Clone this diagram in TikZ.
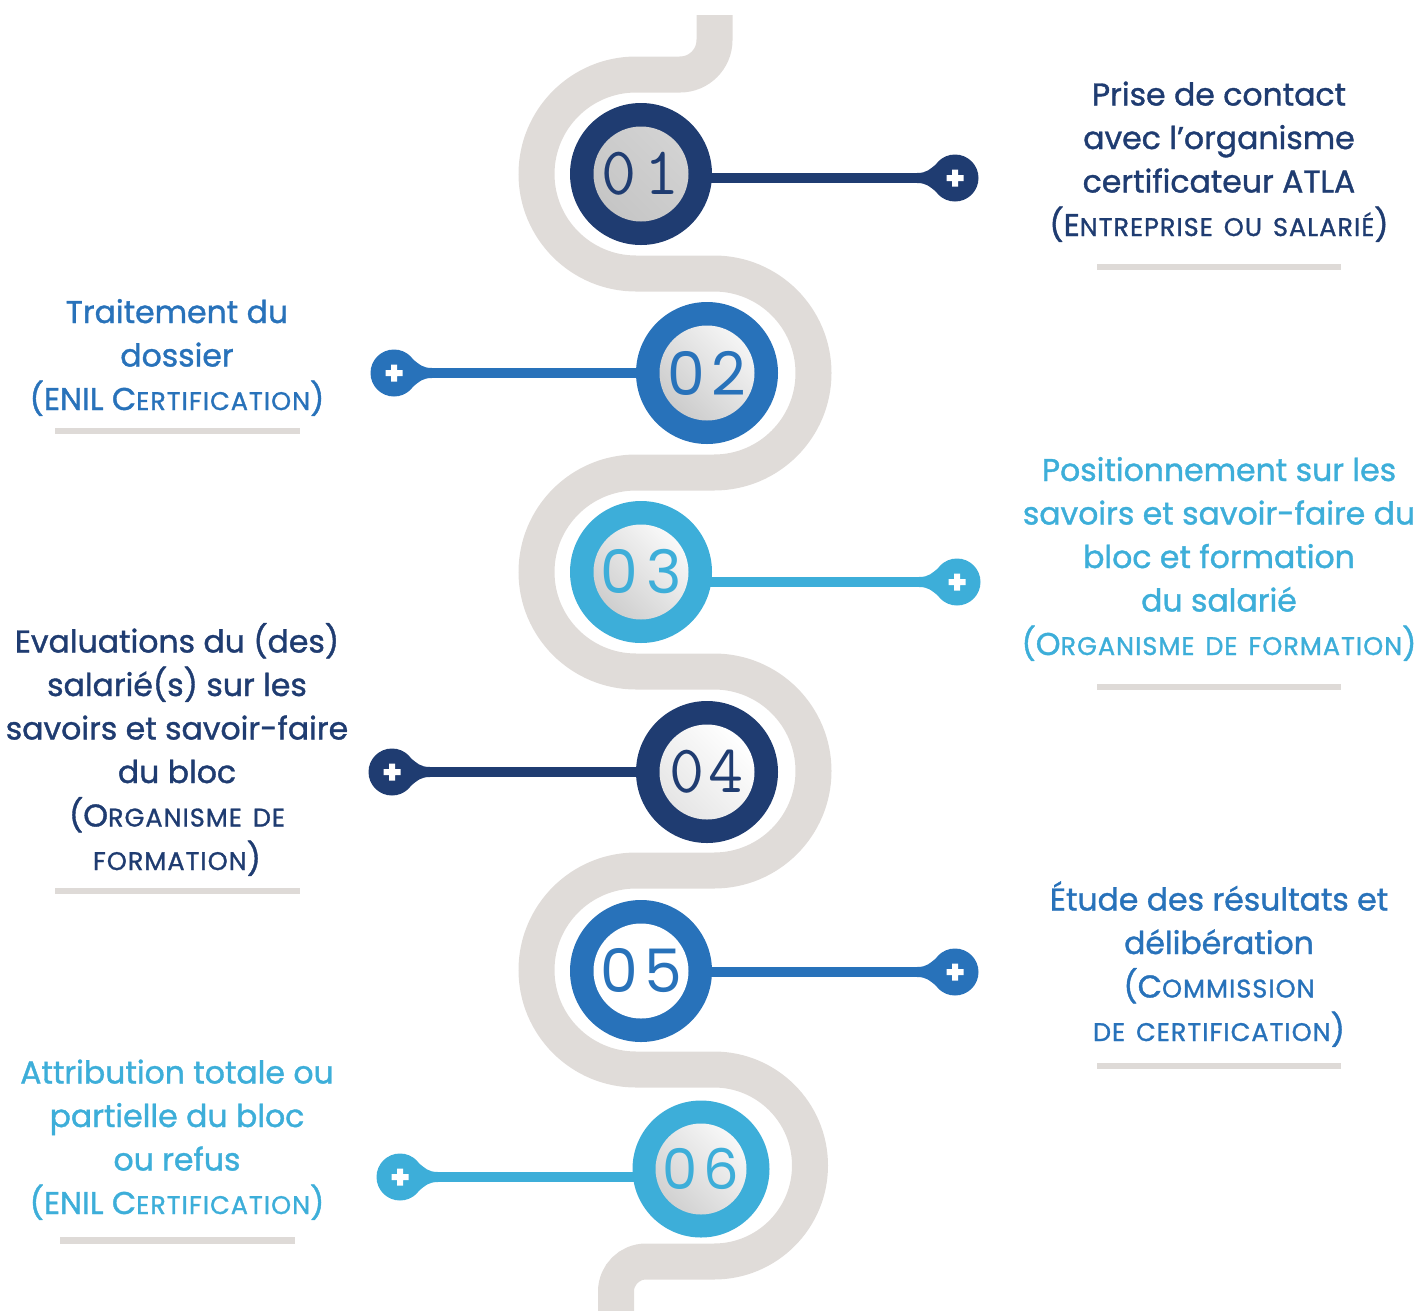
\documentclass[tikz,border=0pt]{standalone}
\usepackage{fontspec}
\setmainfont{Poppins}[FakeBold=1.2]
\newfontfamily\numfam{Poppins}
\newfontfamily\scfam{Poppins}[FakeBold=1.2, LetterSpace=4, WordSpace=1.4]
\usetikzlibrary{backgrounds}
\definecolor{navy}{HTML}{1F3C71}
\definecolor{midblue}{HTML}{2872BA}
\definecolor{lightblue}{HTML}{3DAED9}
\definecolor{pathgray}{HTML}{E0DCD9}
\definecolor{bargray}{HTML}{DEDAD7}
\newcommand\smcap[1]{{\scfam\fontsize{25.5}{25.5}\selectfont #1}}
\newcommand\plusfillet[3]{% node, dir, colour
  \fill[#3, shift={(#1)}, xscale=#2] (38,-5) .. controls (28,-5) and (25,-9) .. (19.2,-13.5)
     -- (19.2,13.5) .. controls (25,9) and (28,5) .. (38,5) -- cycle;
  \fill[white, shift={(#1)}] (-8.5,-3) rectangle (8.5,3) (-3,-8.5) rectangle (3,8.5);}
\begin{document}
\begin{tikzpicture}[x=1pt,y=-1pt,
  ring/.style={circle, inner sep=0, minimum size=142},
  bub/.style={circle, inner sep=0, minimum size=47},
  txt/.style={align=center, inner sep=0, anchor=base, font=\fontsize{31.5}{43.5}\selectfont},
  numm/.style={inner sep=0, font=\ttfamily\fontsize{68}{68}\selectfont},
  nums/.style={inner sep=0, font=\numfam\fontsize{60}{60}\selectfont},
  conn/.style={line width=10},
  bar/.style={line width=6.5, bargray}]
\useasboundingbox (0,0) rectangle (1422,1310);

% step circles
\node[ring, fill=navy] (s1) at (641,174) {};
\node[ring, fill=midblue] (s2) at (707,373) {};
\node[ring, fill=lightblue] (s3) at (641,572) {};
\node[ring, fill=navy] (s4) at (707,772) {};
\node[ring, fill=midblue] (s5) at (641,971) {};
\node[ring, fill=lightblue, minimum size=137] (s6) at (701,1169) {};

\shade[left color=gray!35, right color=gray!45, shading angle=-45] (s1) circle (47.5);
\shade[left color=gray!8, right color=gray!40, shading angle=-45] (s2) circle (47.5);
\shade[left color=gray!5, right color=gray!38, shading angle=-45] (s3) circle (47.5);
\shade[left color=white, right color=gray!20, shading angle=-45] (s4) circle (47.5);
\fill[white] (s5) circle (47.5);
\shade[left color=gray!6, right color=gray!36, shading angle=-45] (s6) circle (45.5);

\node[numm, text=navy] (n1) at (s1) {0\kern8pt1};
\node[nums, text=midblue] (n2) at (s2) {0\kern6pt2};
\node[nums, text=lightblue] (n3) at (s3) {0\kern8pt3};
\node[numm, text=navy] (n4) at (s4) {0\kern4pt4};
\node[nums, text=midblue] (n5) at (s5) {0\kern6pt5};
\node[nums, text=lightblue, font=\numfam\fontsize{56}{56}\selectfont] (n6) at (s6) {0\kern6pt6};

% bubbles
\node[bub, fill=navy] (b1) at (955,178) {};
\node[bub, fill=midblue] (b2) at (394,373) {};
\node[bub, fill=lightblue] (b3) at (957,582) {};
\node[bub, fill=navy] (b4) at (392,772) {};
\node[bub, fill=midblue] (b5) at (955,972) {};
\node[bub, fill=lightblue] (b6) at (400,1177) {};
\plusfillet{b1}{-1}{navy}
\plusfillet{b2}{1}{midblue}
\plusfillet{b3}{-1}{lightblue}
\plusfillet{b4}{1}{navy}
\plusfillet{b5}{-1}{midblue}
\plusfillet{b6}{1}{lightblue}

\begin{pgfonlayer}{background}
\draw[line width=36, pathgray] (714.5,15) -- (714.5,40) arc (0:90:34.5) -- (636,74.5)
  arc (270:90:99.5) -- (714,273.5) arc (-90:90:99.5) -- (636,472.5)
  arc (270:90:99.5) -- (714,671.5) arc (-90:90:99.5) -- (636,870.5)
  arc (270:90:99.5) -- (714,1069.5) arc (-90:90:96) -- (646,1261.5)
  arc (270:180:30) -- (616,1330);
\draw[conn, navy] (s1.center |- b1) -- (b1);
\draw[conn, midblue] (s2.center |- b2) -- (b2);
\draw[conn, lightblue] (s3.center |- b3) -- (b3);
\draw[conn, navy] (s4.center |- b4) -- (b4);
\draw[conn, midblue] (s5.center |- b5) -- (b5);
\draw[conn, lightblue] (s6.center |- b6) -- (b6);
\end{pgfonlayer}

% texts (anchored at the baseline of their last line)
\node[txt, text=navy] (t1) at (1219,236) {Prise de contact\\avec l’organisme\\certificateur ATLA\\(E\smcap{NTREPRISE OU SALARIÉ})};
\node[txt, text=midblue] (t2) at (177,410) {Traitement du\\dossier\\(ENIL C\smcap{ERTIFICATION})};
\node[txt, text=lightblue] (t3) at (1219,655) {Positionnement sur les\\savoirs et savoir-faire du\\bloc et formation\\du salarié\\(O\smcap{RGANISME DE FORMATION})};
\node[txt, text=navy] (t4) at (177,870) {Evaluations du (des)\\salarié(s) sur les\\savoirs et savoir-faire\\du bloc\\(O\smcap{RGANISME DE}\\\smcap{FORMATION})};
\node[txt, text=midblue] (t5) at (1219,1041) {Étude des résultats et\\délibération\\(C\smcap{OMMISSION}\\\smcap{DE CERTIFICATION})};
\node[txt, text=lightblue] (t6) at (177,1214) {Attribution totale ou\\partielle du bloc\\ou refus\\(ENIL C\smcap{ERTIFICATION})};

\draw[bar] (1097,267) -- (1341,267);
\draw[bar] (55,431) -- (300,431);
\draw[bar] (1097,687) -- (1341,687);
\draw[bar] (55,891) -- (300,891);
\draw[bar] (1097,1066) -- (1341,1066);
\draw[bar] (60,1240.5) -- (295,1240.5);
\end{tikzpicture}
\end{document}
